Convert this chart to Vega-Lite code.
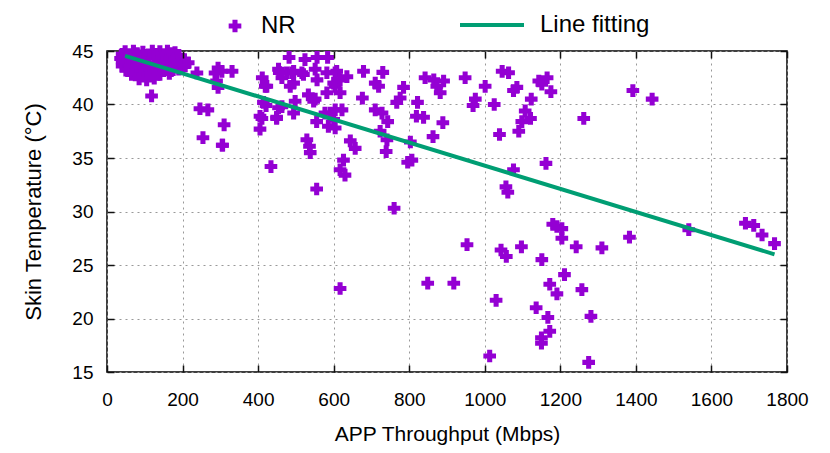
{
  "$schema": "https://vega.github.io/schema/vega-lite/v6.json",
  "width": 680,
  "height": 321,
  "autosize": {"type": "none"},
  "padding": {"left": 107, "top": 51, "right": 43, "bottom": 81},
  "config": {
    "font": "Liberation Sans",
    "view": {"stroke": "#000000", "strokeWidth": 1.5},
    "axis": {"labelColor": "#000000", "titleColor": "#000000", "tickColor": "#111111", "tickWidth": 1.5, "domain": false, "labelFlush": false}
  },
  "datasets": {
    "pts": [
      {"x":48,"y":44.95},{"x":70,"y":45.0},{"x":95,"y":44.9},{"x":120,"y":45.0},{"x":140,"y":44.95},{"x":160,"y":45.0},{"x":180,"y":44.85},
      {"x":40,"y":44.7},{"x":58,"y":44.65},{"x":80,"y":44.75},{"x":105,"y":44.6},{"x":130,"y":44.7},{"x":150,"y":44.65},{"x":170,"y":44.75},{"x":190,"y":44.6},
      {"x":36,"y":44.3},{"x":52,"y":44.35},{"x":75,"y":44.25},{"x":100,"y":44.3},{"x":125,"y":44.4},{"x":145,"y":44.3},{"x":165,"y":44.2},{"x":185,"y":44.35},{"x":205,"y":44.2},
      {"x":40,"y":44.0},{"x":60,"y":43.95},{"x":85,"y":44.05},{"x":110,"y":43.9},{"x":135,"y":44.0},{"x":155,"y":43.95},{"x":175,"y":44.05},{"x":200,"y":43.85},
      {"x":40,"y":43.6},{"x":58,"y":43.55},{"x":80,"y":43.65},{"x":105,"y":43.5},{"x":130,"y":43.6},{"x":150,"y":43.55},{"x":170,"y":43.65},{"x":195,"y":43.5},
      {"x":50,"y":43.2},{"x":70,"y":43.15},{"x":95,"y":43.25},{"x":120,"y":43.1},{"x":145,"y":43.2},{"x":170,"y":43.15},{"x":190,"y":43.3},
      {"x":65,"y":42.8},{"x":90,"y":42.75},{"x":115,"y":42.85},{"x":140,"y":42.8},{"x":165,"y":42.9},
      {"x":85,"y":42.4},{"x":105,"y":42.3},{"x":125,"y":42.45},
      {"x":118,"y":40.8},{"x":246,"y":39.6},{"x":267,"y":39.5},{"x":310,"y":38.1},{"x":254,"y":36.9},{"x":305,"y":36.2},
      {"x":238,"y":42.95},{"x":286,"y":42.95},{"x":294,"y":43.4},{"x":331,"y":43.1},{"x":290,"y":42.2},{"x":294,"y":41.6},
      {"x":215,"y":43.9},{"x":207,"y":43.6},{"x":304,"y":43.1},
      {"x":411,"y":42.5},{"x":419,"y":41.7},{"x":414,"y":40.2},{"x":410,"y":38.7},{"x":405,"y":37.7},{"x":421,"y":39.9},
      {"x":456,"y":43.0},{"x":482,"y":44.4},{"x":489,"y":42.97},{"x":494,"y":42.0},{"x":449,"y":38.7},{"x":463,"y":39.8},{"x":494,"y":39.2},
      {"x":524,"y":44.2},{"x":556,"y":44.4},{"x":520,"y":42.8},{"x":533,"y":40.9},{"x":547,"y":40.3},{"x":556,"y":42.3},{"x":551,"y":43.3},
      {"x":529,"y":36.7},{"x":536,"y":36.1},{"x":538,"y":35.5},{"x":582,"y":42.97},{"x":600,"y":42.0},{"x":608,"y":43.1},{"x":591,"y":39.2},{"x":600,"y":38.6},
      {"x":604,"y":37.8},{"x":626,"y":34.8},{"x":617,"y":33.9},{"x":630,"y":33.4},{"x":434,"y":34.2},
      {"x":584,"y":44.4},{"x":454,"y":43.3},{"x":476,"y":42.97},{"x":494,"y":43.1},{"x":516,"y":42.97},{"x":463,"y":42.5},{"x":485,"y":41.7},
      {"x":423,"y":41.7},{"x":604,"y":42.97},{"x":617,"y":42.3},{"x":635,"y":42.6},{"x":604,"y":41.7},{"x":582,"y":41.1},{"x":617,"y":41.1},
      {"x":498,"y":40.3},{"x":551,"y":40.5},{"x":454,"y":39.7},{"x":577,"y":39.2},{"x":604,"y":39.5},{"x":622,"y":39.5},{"x":555,"y":38.4},{"x":586,"y":37.96},
      {"x":405,"y":38.9},{"x":449,"y":38.8},{"x":644,"y":36.6},{"x":657,"y":35.9},{"x":555,"y":32.1},{"x":306,"y":36.2},
      {"x":679,"y":43.1},{"x":730,"y":43.0},{"x":710,"y":42.0},{"x":719,"y":41.7},{"x":676,"y":40.6},{"x":785,"y":41.6},{"x":767,"y":40.2},{"x":776,"y":40.6},
      {"x":710,"y":39.5},{"x":728,"y":39.2},{"x":743,"y":38.4},{"x":723,"y":37.5},{"x":741,"y":36.7},{"x":739,"y":35.6},{"x":803,"y":36.5},{"x":796,"y":34.6},{"x":807,"y":34.8},
      {"x":760,"y":30.3},{"x":822,"y":40.2},{"x":819,"y":38.9},{"x":838,"y":38.8},{"x":842,"y":42.5},{"x":865,"y":42.3},{"x":891,"y":42.2},{"x":873,"y":41.7},{"x":882,"y":41.1},
      {"x":889,"y":38.3},{"x":863,"y":37.0},
      {"x":948,"y":42.5},{"x":1001,"y":41.7},{"x":975,"y":40.5},{"x":969,"y":39.9},{"x":1025,"y":40.0},{"x":1039,"y":37.2},{"x":1046,"y":43.1},{"x":1063,"y":42.97},
      {"x":1076,"y":41.3},{"x":1085,"y":41.6},{"x":1123,"y":40.5},{"x":1107,"y":39.4},{"x":1121,"y":38.7},{"x":1098,"y":38.4},{"x":1090,"y":37.5},
      {"x":1143,"y":42.2},{"x":1151,"y":41.9},{"x":1165,"y":42.5},{"x":1175,"y":41.2},{"x":1076,"y":33.9},{"x":1056,"y":32.3},{"x":1061,"y":31.8},{"x":1162,"y":34.5},
      {"x":1262,"y":38.7},{"x":1392,"y":41.3},{"x":1443,"y":40.5},
      {"x":617,"y":22.8},{"x":849,"y":23.3},{"x":918,"y":23.3},{"x":953,"y":26.9},{"x":1030,"y":21.7},{"x":1013,"y":16.5},{"x":1043,"y":26.4},{"x":1057,"y":25.8},
      {"x":1097,"y":26.7},{"x":1151,"y":25.5},{"x":1136,"y":21.0},{"x":1172,"y":23.2},{"x":1191,"y":22.3},{"x":1167,"y":20.1},{"x":1172,"y":18.8},{"x":1150,"y":18.2},{"x":1150,"y":17.7},
      {"x":1180,"y":28.8},{"x":1191,"y":28.6},{"x":1204,"y":28.4},{"x":1204,"y":27.5},{"x":1211,"y":24.1},{"x":1242,"y":26.7},{"x":1257,"y":22.7},{"x":1281,"y":20.2},{"x":1275,"y":15.9},
      {"x":1310,"y":26.6},{"x":1383,"y":27.6},{"x":1540,"y":28.3},{"x":1690,"y":28.9},{"x":1712,"y":28.7},{"x":1734,"y":27.8},{"x":1767,"y":27.0}
    ],
    "fit": [
      {"x": 48, "y": 44.55},
      {"x": 1767, "y": 26.0}
    ]
  },
  "layer": [
    {
      "data": {"name": "pts"},
      "mark": {"type": "point", "filled": true, "size": 160, "color": "#9400D3", "opacity": 1, "strokeWidth": 0},
      "encoding": {
        "x": {
          "field": "x", "type": "quantitative",
          "scale": {"domain": [0, 1800], "nice": false, "zero": false},
          "axis": {
            "orient": "bottom", "values": [0,200,400,600,800,1000,1200,1400,1600,1800], "format": "d",
            "title": "APP Throughput (Mbps)", "titleFontSize": 21, "titleFontWeight": "normal", "titlePadding": 14,
            "labelFontSize": 19, "labelPadding": 18, "ticks": false, "tickSize": 0,
            "grid": true, "gridDash": [2, 4], "gridColor": "#999999", "gridWidth": 1
          }
        },
        "y": {
          "field": "y", "type": "quantitative",
          "scale": {"domain": [15, 45], "nice": false, "zero": false},
          "axis": {
            "orient": "left", "values": [15,20,25,30,35,40,45], "format": "d",
            "title": "Skin Temperature (°C)", "titleFontSize": 22, "titleFontWeight": "normal", "titlePadding": 26,
            "labelFontSize": 19, "labelPadding": 14, "ticks": false, "tickSize": 0,
            "grid": true, "gridDash": [2, 4], "gridColor": "#999999", "gridWidth": 1
          }
        },
        "shape": {
          "datum": "NR",
          "scale": {"domain": ["NR"], "range": ["cross"]},
          "legend": {
            "title": null, "orient": "none", "legendX": 116, "legendY": -37, "padding": 0,
            "symbolFillColor": "#9400D3", "symbolStrokeWidth": 0, "symbolOpacity": 1, "symbolSize": 160,
            "labelFontSize": 24, "labelOffset": 14, "labelColor": "#000000"
          }
        }
      }
    },
    {
      "data": {"name": "fit"},
      "mark": {"type": "line", "strokeWidth": 4},
      "encoding": {
        "x": {
          "field": "x", "type": "quantitative",
          "axis": {"orient": "top", "offset": -321, "zindex": 1, "values": [0,200,400,600,800,1000,1200,1400,1600,1800], "labels": false, "title": null, "grid": false, "tickSize": 7}
        },
        "y": {
          "field": "y", "type": "quantitative",
          "axis": {"orient": "right", "offset": -680, "zindex": 1, "values": [15,20,25,30,35,40,45], "labels": false, "title": null, "grid": false, "tickSize": 7}
        },
        "color": {
          "datum": "Line fitting",
          "scale": {"domain": ["Line fitting"], "range": ["#009E73"]},
          "legend": {
            "title": null, "orient": "none", "legendX": 351, "legendY": -60, "padding": 0,
            "symbolType": "stroke", "symbolSize": 4096, "symbolStrokeWidth": 4, "symbolStrokeColor": "#009E73",
            "labelFontSize": 24, "labelOffset": 14, "labelColor": "#000000"
          }
        }
      }
    },
    {
      "data": {"name": "fit"},
      "mark": {"type": "line", "opacity": 0},
      "encoding": {
        "x": {
          "field": "x", "type": "quantitative",
          "axis": {"orient": "bottom", "offset": -321, "zindex": 1, "values": [0,200,400,600,800,1000,1200,1400,1600,1800], "labels": false, "title": null, "grid": false, "tickSize": 7}
        },
        "y": {
          "field": "y", "type": "quantitative",
          "axis": {"orient": "left", "offset": -680, "zindex": 1, "values": [15,20,25,30,35,40,45], "labels": false, "title": null, "grid": false, "tickSize": 7}
        }
      }
    }
  ],
  "resolve": {"axis": {"x": "independent", "y": "independent"}}
}
